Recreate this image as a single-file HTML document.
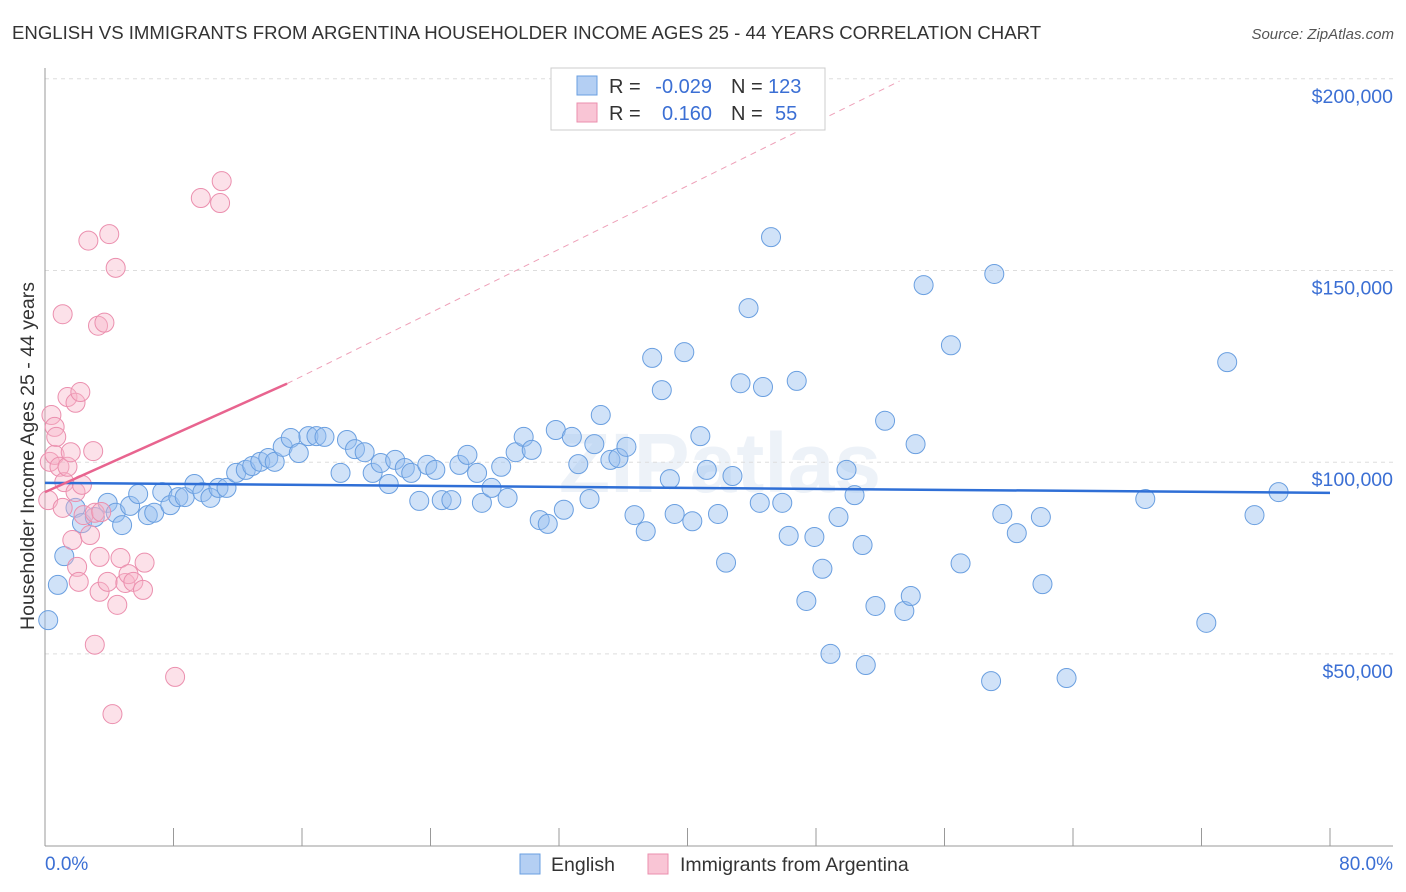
<!DOCTYPE html>
<html><head><meta charset="utf-8"><style>
body{margin:0;background:#fff;font-family:"Liberation Sans",sans-serif;}
svg{display:block}
</style></head><body>
<svg id="chart" width="1406" height="892" viewBox="0 0 1406 892" xmlns="http://www.w3.org/2000/svg" font-family="Liberation Sans, sans-serif">
<text x="12" y="39" font-size="18.6" fill="#333">ENGLISH VS IMMIGRANTS FROM ARGENTINA HOUSEHOLDER INCOME AGES 25 - 44 YEARS CORRELATION CHART</text>
<text x="1394" y="39" font-size="15" fill="#555" font-style="italic" text-anchor="end">Source: ZipAtlas.com</text>
<text x="720" y="492" font-size="84" fill="#e6edf6" text-anchor="middle" font-weight="bold" opacity="0.7">ZIPatlas</text>
<g id="grid"></g>
<g id="axes"></g>
<g id="pts"></g>
<g id="trend"></g>
<text transform="translate(34,456) rotate(-90)" font-size="19.5" fill="#333" text-anchor="middle">Householder Income Ages 25 - 44 years</text>
<text x="45" y="870" font-size="19" fill="#3b6fd4">0.0%</text>
<text x="1393" y="870" font-size="19" fill="#3b6fd4" text-anchor="end">80.0%</text>
<g style="white-space:pre">
<rect x="551" y="68" width="274" height="62" fill="#fff" stroke="#ccc"/>
<rect x="577" y="76" width="20" height="19" fill="#b4cff3" stroke="#6a9fe0"/>
<rect x="577" y="103" width="20" height="19" fill="#f9c5d5" stroke="#eb8fae"/>
<text x="609" y="93" font-size="20" fill="#333">R =</text>
<text x="712" y="93" font-size="20" fill="#3b6fd4" text-anchor="end">-0.029</text>
<text x="731" y="93" font-size="20" fill="#333">N =</text>
<text x="768" y="93" font-size="20" fill="#3b6fd4">123</text>
<text x="609" y="120" font-size="20" fill="#333">R =</text>
<text x="712" y="120" font-size="20" fill="#3b6fd4" text-anchor="end">0.160</text>
<text x="731" y="120" font-size="20" fill="#333">N =</text>
<text x="775" y="120" font-size="20" fill="#3b6fd4">55</text>
</g>
<g>
<rect x="520" y="854" width="20" height="20" fill="#b4cff3" stroke="#6a9fe0"/>
<text x="551" y="871" font-size="19.5" fill="#333">English</text>
<rect x="648" y="854" width="20" height="20" fill="#f9c5d5" stroke="#eb8fae"/>
<text x="680" y="871" font-size="19.5" fill="#333">Immigrants from Argentina</text>
</g>
</svg>
<script>
const yTicks=[50,100,150,200];
const yTickLabels=["$50,000","$100,000","$150,000","$200,000"];
const xTicks=[0,8,16,24,32,40,48,56,64,72,80];
const englishX=[0.2,0.8,1.2,1.9,2.3,3.1,3.9,4.4,4.8,5.3,5.8,6.4,6.8,7.3,7.8,8.3,8.7,9.3,9.8,10.3,10.8,11.3,11.9,12.5,12.9,13.4,13.9,14.3,14.8,15.3,15.8,16.4,16.9,17.4,18.4,18.8,19.3,19.9,20.4,20.9,21.4,21.8,22.4,22.8,23.3,23.8,24.3,24.7,25.3,25.8,26.3,26.9,27.2,27.8,28.4,28.8,29.3,29.8,30.3,30.8,31.3,31.8,32.3,32.8,33.2,33.9,34.2,34.6,35.2,35.7,36.2,36.7,37.4,37.8,38.4,38.9,39.2,39.8,40.3,40.8,41.2,41.9,42.4,42.8,43.3,43.8,44.5,44.7,45.2,45.9,46.3,46.8,47.4,47.9,48.4,48.9,49.4,49.9,50.4,50.9,51.1,51.7,52.3,53.5,53.9,54.2,54.7,56.4,57.0,58.9,59.1,59.6,60.5,62.0,62.1,63.6,68.5,72.3,73.6,75.3,76.8];
const englishY=[58.8,68.0,75.5,88.1,84.1,85.7,89.4,86.8,83.6,88.6,91.7,86.2,86.8,92.2,88.8,90.9,90.9,94.3,92.2,90.7,93.3,93.3,97.2,98.0,99.0,100.1,101.1,100.1,104.0,106.3,102.4,106.8,106.8,106.6,97.2,105.8,103.4,102.6,97.2,99.8,94.3,100.6,98.5,97.2,89.9,99.3,98.0,90.1,90.1,99.3,101.9,97.2,89.4,93.3,98.8,90.7,102.6,106.6,103.2,84.9,83.9,108.4,87.6,106.6,99.5,90.4,104.7,112.3,100.6,101.1,104.0,86.2,82.0,127.2,118.8,95.6,86.5,128.7,84.6,106.8,98.0,86.5,73.8,96.4,120.6,140.2,89.4,119.6,158.7,89.4,80.8,121.2,63.8,80.5,72.2,50.0,85.7,98.0,91.4,78.4,47.1,62.5,110.8,61.2,65.1,104.7,146.2,130.5,73.6,42.9,149.1,86.5,81.5,85.7,68.2,43.7,90.4,58.1,126.1,86.2,92.2];
const argX=[0.2,0.3,0.4,0.6,0.6,0.7,0.9,1.1,1.1,1.2,1.4,1.4,1.6,1.7,1.9,1.9,2.0,2.1,2.2,2.3,2.4,2.7,2.8,3.0,3.1,3.3,3.4,3.4,3.5,3.7,3.9,4.0,4.2,4.4,4.5,4.7,5.0,5.2,5.5,6.1,6.2,3.1,8.1,9.7,10.9,11.0];
const argY=[90.1,100.1,112.3,109.2,101.9,106.6,98.8,138.6,88.1,94.8,117.0,98.8,102.6,79.7,92.2,115.5,72.7,68.8,118.3,94.1,86.2,157.8,81.0,102.9,86.8,135.6,66.2,75.3,87.0,136.4,68.8,159.5,34.3,150.7,62.8,75.0,68.5,70.8,68.8,66.7,73.8,52.4,44.0,168.9,167.6,173.3];
const englishTrend=[94.6,92.0];
const argTrend=[92.2,120.5,199.4];
const argTrendX=[0,15.07,53.2];
const NS="http://www.w3.org/2000/svg";
const X0=45,X1=1330,Y0=845.6,YPER=3.834;
function sx(v){return X0+(X1-X0)*v/80;}
function sy(v){return Y0-v*YPER;}
function mk(tag,attrs,parent){const e=document.createElementNS(NS,tag);for(const k in attrs)e.setAttribute(k,attrs[k]);parent.appendChild(e);return e;}
const grid=document.getElementById('grid'),axes=document.getElementById('axes'),pts=document.getElementById('pts'),trend=document.getElementById('trend');
yTicks.forEach((t,i)=>{
 const l=mk('line',{x1:45,x2:1393,y1:sy(t),y2:sy(t),stroke:'#ddd','stroke-dasharray':'4,4'},grid);
 
 
 const tx=mk('text',{x:1393,y:sy(t)+24,'font-size':19.5,fill:'#3b6fd4','text-anchor':'end'},axes);
 tx.textContent=yTickLabels[i];
 
 
});
const ya=mk('line',{x1:45,x2:45,y1:68,y2:846,stroke:'#999'},axes);


const xa=mk('line',{x1:45,x2:1393,y1:846,y2:846,stroke:'#999'},axes);


xTicks.forEach(t=>{
 const l=mk('line',{x1:sx(t),x2:sx(t),y1:828,y2:846,stroke:'#999'},axes);
 
 
});
englishX.forEach((x,i)=>{
 const c=mk('circle',{cx:sx(x),cy:sy(englishY[i]),r:9.5,fill:'rgba(150,190,240,0.45)',stroke:'#6a9fe0','stroke-width':1},pts);
 
 
});
argX.forEach((x,i)=>{
 const c=mk('circle',{cx:sx(x),cy:sy(argY[i]),r:9.5,fill:'rgba(248,180,200,0.4)',stroke:'#eb8fae','stroke-width':1},pts);
 
 
});
const bt=mk('line',{x1:sx(0),x2:sx(80),y1:sy(englishTrend[0]),y2:sy(englishTrend[1]),stroke:'#2f6fd6','stroke-width':2.5},trend);


const pt=mk('line',{x1:sx(argTrendX[0]),x2:sx(argTrendX[1]),y1:sy(argTrend[0]),y2:sy(argTrend[1]),stroke:'#e8648f','stroke-width':2.5},trend);


const pd=mk('line',{x1:sx(argTrendX[1]),x2:sx(argTrendX[2]),y1:sy(argTrend[1]),y2:sy(argTrend[2]),stroke:'#eea0b8','stroke-width':1,'stroke-dasharray':'6,5'},trend);


</script>
</body></html>
